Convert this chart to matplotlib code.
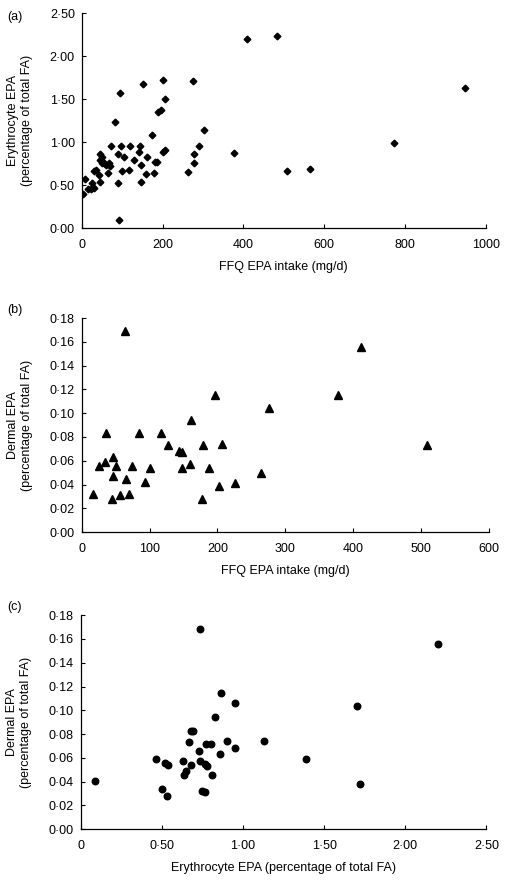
import numpy as np
import matplotlib
matplotlib.use('Agg')
import matplotlib.pyplot as plt
from matplotlib.ticker import FuncFormatter

plt.rcParams['font.family'] = ['Liberation Sans', 'DejaVu Sans']

# (a) FFQ EPA intake vs erythrocyte EPA
ffq_a = [3, 8, 15, 23, 30, 25, 31, 35, 42, 44, 46, 49, 46, 52, 56, 49, 60, 68, 71, 64,
         72, 81, 89, 96, 105, 120, 100, 116, 89, 93, 94, 130, 143, 142, 147, 147, 151,
         161, 158, 174, 178, 180, 186, 188, 197, 201, 202, 207, 206, 262, 275, 277, 277,
         291, 302, 376, 408, 484, 508, 565, 773, 948]
ery_a = [0.40, 0.57, 0.45, 0.45, 0.47, 0.53, 0.67, 0.68, 0.62, 0.54, 0.86, 0.83, 0.79,
         0.77, 0.76, 0.76, 0.73, 0.76, 0.72, 0.64, 0.96, 1.24, 0.86, 0.95, 0.83, 0.96,
         0.67, 0.68, 0.53, 0.10, 1.57, 0.79, 0.96, 0.89, 0.74, 0.54, 1.68, 0.83, 0.63,
         1.08, 0.64, 0.77, 0.77, 1.35, 1.38, 1.72, 0.89, 0.91, 1.50, 0.65, 1.71, 0.86,
         0.76, 0.95, 1.14, 0.87, 2.20, 2.24, 0.66, 0.69, 0.99, 1.63]

# (b) FFQ EPA intake vs dermal EPA
ffq_b = [16, 25, 34, 35, 46, 46, 45, 51, 56, 64, 65, 70, 74, 85, 93, 100, 116, 127, 144,
         147, 147, 159, 161, 177, 179, 187, 197, 202, 206, 226, 264, 276, 377, 411, 509]
derm_b = [0.032, 0.056, 0.059, 0.083, 0.063, 0.047, 0.028, 0.056, 0.031, 0.169, 0.045,
          0.032, 0.056, 0.083, 0.042, 0.054, 0.083, 0.073, 0.068, 0.067, 0.054, 0.057,
          0.094, 0.028, 0.073, 0.054, 0.115, 0.039, 0.074, 0.041, 0.050, 0.104, 0.115,
          0.156, 0.073]

# (c) erythrocyte EPA vs dermal EPA
ery_c = [0.088, 0.465, 0.50, 0.52, 0.54, 0.53, 0.63, 0.636, 0.648, 0.665, 0.677, 0.68,
         0.69, 0.728, 0.733, 0.735, 0.75, 0.765, 0.77, 0.80, 0.763, 0.78, 0.807, 0.825,
         0.858, 0.866, 0.903, 0.953, 0.953, 1.13, 1.39, 1.70, 1.72, 2.20]
derm_c = [0.041, 0.059, 0.034, 0.056, 0.054, 0.028, 0.057, 0.046, 0.049, 0.073, 0.054,
          0.083, 0.083, 0.066, 0.168, 0.057, 0.032, 0.031, 0.072, 0.072, 0.055, 0.053,
          0.046, 0.094, 0.063, 0.115, 0.074, 0.106, 0.068, 0.074, 0.059, 0.104, 0.038,
          0.156]

fs = 9


def dot_fmt(zero_plain=False):
    def f(v, pos):
        if zero_plain and abs(v) < 1e-12:
            return '0'
        return ('%.2f' % v).replace('.', '\u00b7')
    return FuncFormatter(f)


def style(ax):
    for s in ['top', 'right']:
        ax.spines[s].set_visible(False)
    for s in ['left', 'bottom']:
        ax.spines[s].set_linewidth(0.9)
    ax.tick_params(direction='in', length=3, width=0.8, labelsize=fs)
    ax.tick_params(axis='x', pad=8)
    ax.tick_params(axis='y', pad=5)


fig = plt.figure(figsize=(5.05, 8.81), dpi=100)

ax1 = fig.add_axes([0.162, 0.741, 0.800, 0.244])
ax1.plot(ffq_a, ery_a, linestyle='none', marker='D', markersize=3.4, color='black')
ax1.set_xlim(0, 1000)
ax1.set_ylim(0, 2.5)
ax1.set_xticks(np.arange(0, 1001, 200))
ax1.set_yticks(np.arange(0, 2.51, 0.5))
ax1.yaxis.set_major_formatter(dot_fmt())
ax1.set_xlabel('FFQ EPA intake (mg/d)', fontsize=fs, labelpad=7)
ax1.set_ylabel('Erythrocyte EPA\n(percentage of total FA)', fontsize=fs, labelpad=12)
style(ax1)
fig.text(0.014, 0.988, '(a)', fontsize=fs, va='top')

ax2 = fig.add_axes([0.162, 0.396, 0.806, 0.243])
ax2.plot(ffq_b, derm_b, linestyle='none', marker='^', markersize=5.2, color='black')
ax2.set_xlim(0, 600)
ax2.set_ylim(0, 0.18)
ax2.set_xticks(np.arange(0, 601, 100))
ax2.set_yticks(np.arange(0, 0.181, 0.02))
ax2.yaxis.set_major_formatter(dot_fmt())
ax2.set_xlabel('FFQ EPA intake (mg/d)', fontsize=fs, labelpad=7)
ax2.set_ylabel('Dermal EPA\n(percentage of total FA)', fontsize=fs, labelpad=12)
style(ax2)
fig.text(0.014, 0.655, '(b)', fontsize=fs, va='top')

ax3 = fig.add_axes([0.160, 0.0587, 0.803, 0.243])
ax3.plot(ery_c, derm_c, linestyle='none', marker='o', markersize=4.7, color='black')
ax3.set_xlim(0, 2.5)
ax3.set_ylim(0, 0.18)
ax3.set_xticks(np.arange(0, 2.51, 0.5))
ax3.set_yticks(np.arange(0, 0.181, 0.02))
ax3.xaxis.set_major_formatter(dot_fmt(zero_plain=True))
ax3.yaxis.set_major_formatter(dot_fmt())
ax3.set_xlabel('Erythrocyte EPA (percentage of total FA)', fontsize=fs, labelpad=7)
ax3.set_ylabel('Dermal EPA\n(percentage of total FA)', fontsize=fs, labelpad=12)
style(ax3)
fig.text(0.014, 0.318, '(c)', fontsize=fs, va='top')

plt.savefig('out.png', dpi=100)
